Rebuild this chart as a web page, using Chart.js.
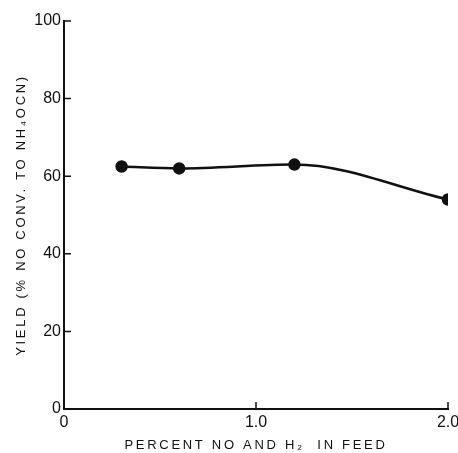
<!DOCTYPE html>
<html>
<head>
<meta charset="utf-8">
<script src="https://cdn.jsdelivr.net/npm/chart.js@4/dist/chart.umd.min.js"></script>
<style>
  html, body { margin: 0; padding: 0; background: #fff; }
  #wrap { width: 458px; height: 453px; }
</style>
</head>
<body>
<div id="wrap"><canvas id="c" width="458" height="453"></canvas></div>
<script>
// ---- data ----
const feedPercent = [0.3, 0.6, 1.2, 2.0];
const yieldPct = [62.5, 62, 63, 54];
const xTickValues = [0, 1, 2];
const xTickLabels = ['0', '1.0', '2.0'];
const yTickValues = [0, 20, 40, 60, 80, 100];
const yTickLabels = ['0', '20', '40', '60', '80', '100'];
const xTitle = 'PERCENT NO AND H\u2082  IN FEED';
const yTitle = 'YIELD (% NO CONV. TO NH\u2084OCN)';

const INK = '#111';

const inwardTicks = {
  id: 'inwardTicks',
  afterDraw(chart) {
    const ctx = chart.ctx;
    const xs = chart.scales.x, ys = chart.scales.y;
    const len = 7;
    ctx.save();
    ctx.strokeStyle = INK;
    ctx.lineWidth = 1.5;
    ctx.beginPath();
    yTickValues.forEach(v => {
      if (v === 0) return;
      const py = ys.getPixelForValue(v);
      ctx.moveTo(xs.left, py);
      ctx.lineTo(xs.left + len, py);
    });
    xTickValues.forEach(v => {
      if (v === 0) return;
      const px = xs.getPixelForValue(v);
      ctx.moveTo(px, ys.bottom);
      ctx.lineTo(px, ys.bottom - len);
    });
    ctx.stroke();
    ctx.restore();
  }
};

// letter spacing only for axis titles
const titleSpacing = {
  id: 'titleSpacing',
  beforeDraw(chart) {
    Object.values(chart.scales).forEach(s => {
      if (s._spacingPatched) return;
      s._spacingPatched = true;
      const origTitle = s.drawTitle.bind(s);
      s.drawTitle = function () {
        const ctx = this.ctx;
        const prev = ctx.letterSpacing;
        ctx.letterSpacing = '2.7px';
        origTitle();
        ctx.letterSpacing = prev || '0px';
      };
    });
  }
};

new Chart(document.getElementById('c'), {
  type: 'line',
  data: {
    datasets: [{
      data: feedPercent.map((x, i) => ({ x: x, y: yieldPct[i] })),
      borderColor: INK,
      backgroundColor: INK,
      borderWidth: 2.5,
      pointRadius: 5,
      pointHoverRadius: 5,
      pointBackgroundColor: INK,
      pointBorderColor: INK,
      tension: 0.4,
      cubicInterpolationMode: 'monotone',
      fill: false
    }]
  },
  options: {
    responsive: false,
    animation: false,
    events: [],
    layout: { padding: { top: 21, right: 10, left: 0, bottom: 0 } },
    plugins: { legend: { display: false }, tooltip: { enabled: false } },
    scales: {
      x: {
        type: 'linear',
        min: 0, max: 2,
        afterBuildTicks: s => { s.ticks = xTickValues.map(v => ({ value: v })); },
        afterFit: s => { s.height = 44; s.paddingRight = 10; s.paddingLeft = 0; },
        grid: { display: false, drawTicks: false },
        border: { display: true, color: INK, width: 2 },
        ticks: {
          color: INK,
          padding: 4,
          maxRotation: 0,
          font: { family: 'Liberation Sans', size: 16 },
          callback: (v) => xTickLabels[xTickValues.indexOf(v)]
        },
        title: {
          display: true,
          text: xTitle,
          color: INK,
          font: { family: 'Liberation Sans', size: 13 },
          padding: { top: 3, bottom: 0 }
        }
      },
      y: {
        type: 'linear',
        min: 0, max: 100,
        afterBuildTicks: s => { s.ticks = yTickValues.map(v => ({ value: v })); },
        afterFit: s => { s.width = 64; s.paddingTop = 0; s.paddingBottom = 0; },
        grid: { display: false, drawTicks: false },
        border: { display: true, color: INK, width: 2 },
        ticks: {
          color: INK,
          padding: 3,
          font: { family: 'Liberation Sans', size: 16 },
          callback: (v) => yTickLabels[yTickValues.indexOf(v)]
        },
        title: {
          display: true,
          text: yTitle,
          color: INK,
          font: { family: 'Liberation Sans', size: 13 },
          padding: { top: 14, bottom: 0 }
        }
      }
    }
  },
  plugins: [inwardTicks, titleSpacing]
});
</script>
</body>
</html>
